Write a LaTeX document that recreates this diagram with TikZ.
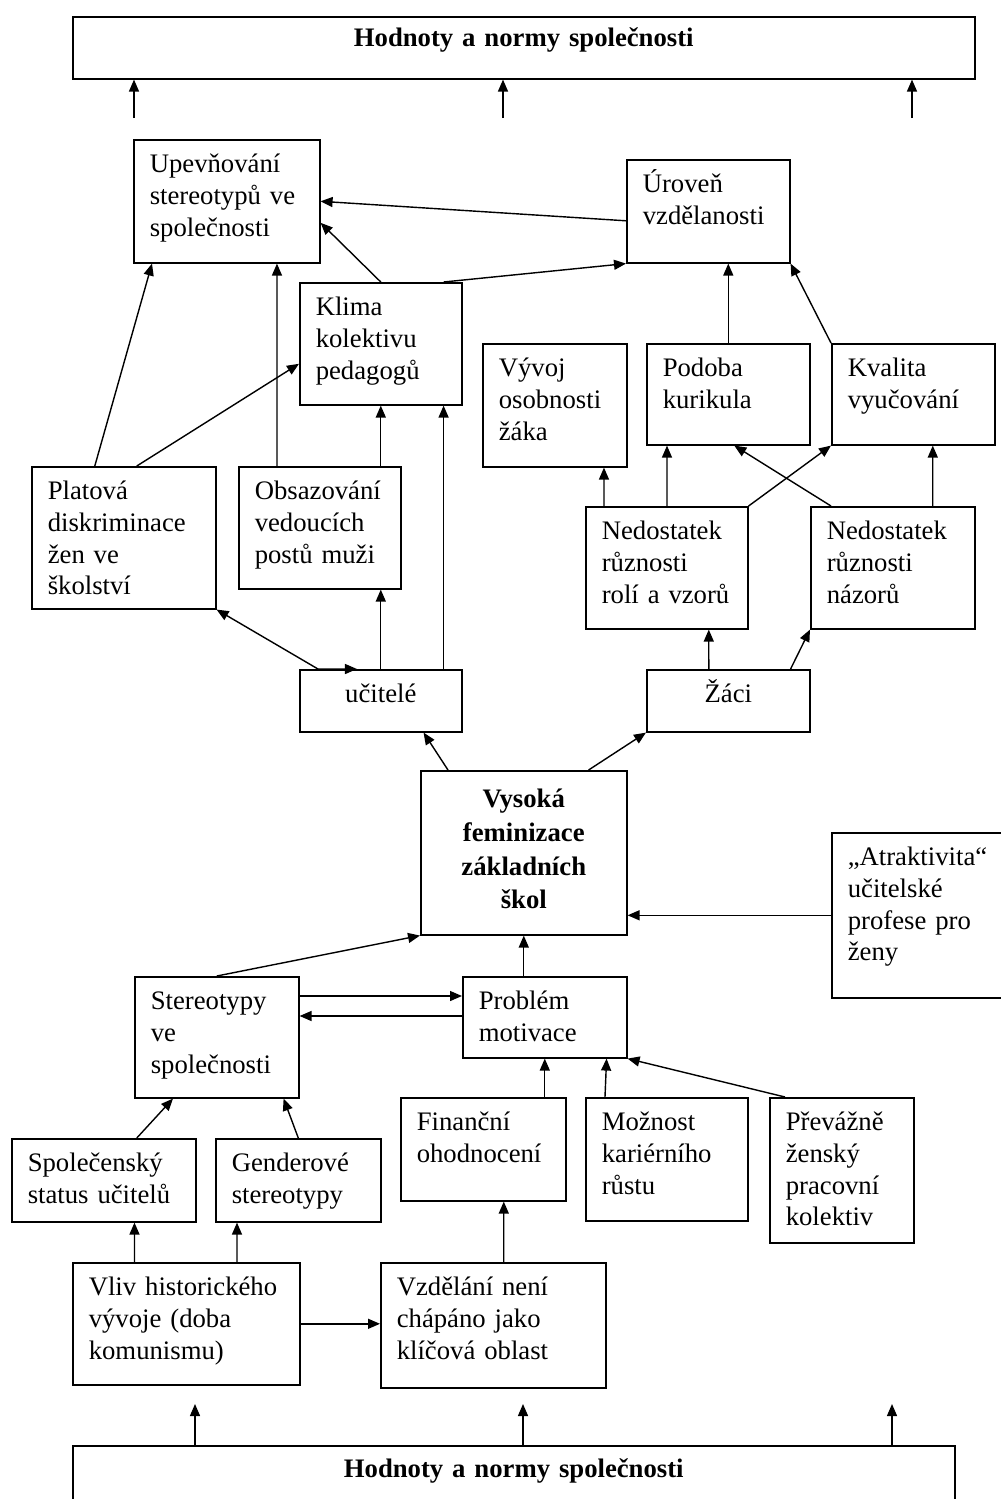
\documentclass[tikz,border=0pt]{standalone}
\usepackage{fontspec}
\setmainfont{Liberation Serif}
\usetikzlibrary{arrows.meta}

\begin{document}
\begin{tikzpicture}[
    x=0.02cm, y=-0.02cm,
    box/.style 2 args={draw, line width=0.9pt, anchor=north west, align=left, inner xsep=0.32cm, inner ysep=0pt, text width=#1*0.02cm-0.64cm, text height=0.66cm, text depth=#2*0.02cm-0.66cm, font=\fontsize{15.2}{18}\selectfont},
    boldbox/.style 2 args={box={#1}{#2}, align=center, font=\fontsize{15.2}{19.2}\selectfont\bfseries},
    arrow/.style={line width=0.8pt, ->, >={Triangle[length=0.24cm, width=0.2cm]}}
]
\useasboundingbox (0,0) rectangle (1001,1499);

% Top
\node[boldbox={902}{62}, text height=0.6cm, text depth=0.64cm] (hodtop) at (72,16) {Hodnoty a normy společnosti};
\coordinate (t1) at (134,118);
\coordinate (t2) at (503,118);
\coordinate (t3) at (912,118);

% Consequences
\node[box={186}{123}] (upev) at (133,139) {Upevňování\\stereotypů ve\\společnosti};
\node[box={163}{103}] (uroven) at (626,159) {Úroveň\\vzdělanosti};
\node[box={162}{122}] (klima) at (299,282) {Klima\\kolektivu\\pedagogů};
\node[box={144}{123}] (vyvoj) at (482,343) {Vývoj\\osobnosti\\žáka};
\node[box={163}{101}] (podoba) at (646,343) {Podoba\\kurikula};
\node[box={163}{101}] (kvalita) at (831,343) {Kvalita\\vyučování};
\node[box={184}{142}] (platova) at (31,466) {Platová\\diskriminace\\žen ve\\školství};
\node[box={162}{122}] (obsaz) at (238,466) {Obsazování\\vedoucích\\postů muži};
\node[box={162}{122}] (nedrole) at (585,506) {Nedostatek\\různosti\\rolí a vzorů};
\node[box={164}{122}] (nednazor) at (810,506) {Nedostatek\\různosti\\názorů};
\node[box={162}{62}, align=center] (ucitele) at (299,669) {učitelé};
\node[box={163}{62}, align=center] (zaci) at (646,669) {Žáci};

% Centre
\node[boldbox={206}{164}, text height=0.74cm, text depth=2.54cm] (vysoka) at (420,770) {Vysoká\\feminizace\\základních\\škol};
\node[box={180}{165}] (atrakt) at (831,832) {„Atraktivita“\\učitelské\\profese pro\\ženy};

% Causes
\node[box={164}{121}] (stereo) at (134,976) {Stereotypy\\ve\\společnosti};
\node[box={164}{81}] (problem) at (462,976) {Problém\\motivace};
\node[box={165}{103}] (financni) at (400,1097) {Finanční\\ohodnocení};
\node[box={162}{123}] (moznost) at (585,1097) {Možnost\\kariérního\\růstu};
\node[box={144}{145}] (prevazne) at (769,1097) {Převážně\\ženský\\pracovní\\kolektiv};
\node[box={184}{83}] (spolec) at (11,1138) {Společenský\\status učitelů};
\node[box={165}{83}] (gender) at (215,1138) {Genderové\\stereotypy};
\node[box={227}{122}] (vliv) at (72,1262) {Vliv historického\\vývoje (doba\\komunismu)};
\node[box={225}{125}] (vzdelani) at (380,1262) {Vzdělání není\\chápáno jako\\klíčová oblast};

% Bottom
\node[boldbox={882}{80}, text height=0.64cm, text depth=0.96cm] (hodbot) at (72,1445) {Hodnoty a normy společnosti};
\coordinate (b1) at (195,1404);
\coordinate (b2) at (523,1404);
\coordinate (b3) at (892,1404);

% Arrows
\draw[arrow] (t1) -- (t1 |- hodtop.south);
\draw[arrow] (t2) -- (t2 |- hodtop.south);
\draw[arrow] (t3) -- (t3 |- hodtop.south);
\draw[arrow] ([yshift=-0.19cm]uroven.west) -- (upev.east);
\draw[arrow] (klima.north) -- ([yshift=-0.43cm]upev.east);
\draw[arrow] ([xshift=-0.38cm]klima.north east) -- (uroven.south west);
\draw[arrow] ([xshift=-0.58cm]platova.north) -- ([xshift=0.38cm]upev.south west);
\draw[arrow] ([xshift=0.26cm]platova.north) -- ([yshift=-0.4cm]klima.west);
\draw[arrow] ([xshift=0.78cm]obsaz.north west) -- ([xshift=2.88cm]upev.south west);
\draw[arrow] (klima.south |- obsaz.north) -- (klima.south);
\draw[arrow] (ucitele.north) -- (ucitele.north |- obsaz.south);
\draw[arrow] ([xshift=-0.38cm]ucitele.north east) -- ([xshift=-0.38cm]klima.south east);
\draw[arrow, <->] (platova.south east) -- ([xshift=0.38cm]ucitele.north west) -- ([xshift=1.16cm]ucitele.north west);
\draw[arrow] (podoba.north) -- (podoba.north |- uroven.south);
\draw[arrow] (kvalita.north west) -- (uroven.south east);
\draw[arrow] ([xshift=0.38cm]nedrole.north west) -- ([xshift=2.44cm]vyvoj.south west);
\draw[arrow] ([xshift=1.64cm]nedrole.north west) -- ([xshift=0.42cm]podoba.south west);
\draw[arrow] (nedrole.north east) -- (kvalita.south west);
\draw[arrow] ([xshift=0.42cm]nednazor.north west) -- ([xshift=0.12cm]podoba.south);
\draw[arrow] ([xshift=0.8cm]nednazor.north) -- ([xshift=0.39cm]kvalita.south);
\draw[arrow] ([xshift=-0.39cm]zaci.north) -- ([xshift=0.84cm]nedrole.south);
\draw[arrow] ([xshift=-0.4cm]zaci.north east) -- (nednazor.south west);
\draw[arrow] ([xshift=0.56cm]vysoka.north west) -- ([xshift=-0.78cm]ucitele.south east);
\draw[arrow] ([xshift=-0.78cm]vysoka.north east) -- (zaci.south west);
\draw[arrow] (atrakt.west) -- (atrakt.west -| vysoka.east);
\draw[arrow] (stereo.north) -- (vysoka.south west);
\draw[arrow] (vysoka.south |- problem.north) -- (vysoka.south);
\draw[arrow] ([yshift=-0.4cm]stereo.north east) -- ([yshift=-0.4cm]problem.north west);
\draw[arrow] ([yshift=-0.8cm]problem.north west) -- ([yshift=-0.8cm]stereo.north east);
\draw[arrow] (problem.south |- financni.north) -- (problem.south);
\draw[arrow] ([xshift=0.4cm]moznost.north west) -- ([xshift=-0.42cm]problem.south east);
\draw[arrow] ([xshift=0.32cm]prevazne.north west) -- (problem.south east);
\draw[arrow] ([xshift=0.66cm]spolec.north) -- ([xshift=0.78cm]stereo.south west);
\draw[arrow] (gender.north) -- ([xshift=-0.32cm]stereo.south east);
\draw[arrow] ([xshift=1.25cm]vliv.north west) -- ([xshift=2.47cm]spolec.south west);
\draw[arrow] ([xshift=3.3cm]vliv.north west) -- ([xshift=0.44cm]gender.south west);
\draw[arrow] ([xshift=0.21cm]vzdelani.north) -- ([xshift=0.41cm]financni.south);
\draw[arrow] (vliv.east) -- (vliv.east -| vzdelani.west);
\draw[arrow] (b1 |- hodbot.north) -- (b1);
\draw[arrow] (b2 |- hodbot.north) -- (b2);
\draw[arrow] (b3 |- hodbot.north) -- (b3);

\end{tikzpicture}
\end{document}
